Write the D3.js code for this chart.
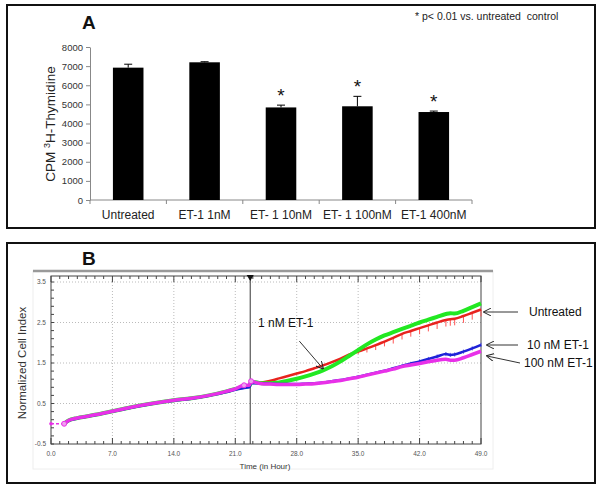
<html><head>
<meta charset="utf-8">
<script src="https://d3js.org/d3.v7.min.js"></script>
<style>
  body { margin: 0; background: #fff; }
  text { font-family: "Liberation Sans", Arial, sans-serif; }
</style>
</head>
<body>
<div id="chart"></div>
<script>
    const svgWidth = 601;
    const svgHeight = 489;

    // ---- panel A data ----
    const categories = ["Untreated", "ET-1 1nM", "ET- 1 10nM", "ET- 1 100nM", "ET-1 400nM"];
    const cpmValues = [6920, 7200, 4840, 4900, 4600];
    const cpmErrors = [180, 30, 120, 520, 50];
    const significant = [false, false, true, true, true];
    const yTicksA = [0, 1000, 2000, 3000, 4000, 5000, 6000, 7000, 8000];

    // ---- panel B data ----
    const timeH = [1.5, 2, 3, 4, 5, 7, 9, 11, 13, 14, 16, 18, 20, 21, 22, 22.6, 22.8, 23.5,
                   24, 25, 26, 27, 28, 29, 30, 31, 32, 33, 34, 35, 36, 37, 38, 39, 40, 41,
                   42, 43, 44, 45, 45.5, 46, 47, 48, 49];
    const pre = [0.0, 0.08, 0.14, 0.18, 0.22, 0.31, 0.40, 0.48, 0.55, 0.58, 0.63, 0.70, 0.80, 0.86, 0.91, 0.93, 1.03, 1.02];
    const untreatedCI = pre.concat([1.02, 1.06, 1.12, 1.18, 1.24, 1.30, 1.37, 1.44, 1.52, 1.61, 1.71, 1.78, 1.86, 1.94, 2.03, 2.12, 2.22, 2.29,
                   2.36, 2.43, 2.50, 2.56, 2.58, 2.59, 2.66, 2.74, 2.82]);
    const untreatedErr = [0,0,0,0,0,0,0,0,0,0,0,0,0,0,0,0,0,0,
                   0,0,0,0,0,0,0,0,0,0,0,0.06,0.10,0.12,0.12,0.14,0.14,0.14,
                   0.15,0.15,0.16,0.16,0.16,0.16,0.17,0.17,0.17];
    const nM1CI = pre.concat([1.00, 1.00, 1.02, 1.06, 1.11, 1.17, 1.24, 1.32, 1.42, 1.54, 1.68, 1.82, 1.96, 2.08, 2.18, 2.26, 2.34, 2.42,
                   2.50, 2.57, 2.64, 2.71, 2.73, 2.72, 2.79, 2.88, 2.97]);
    const nM10CI = [0.0, 0.07, 0.13, 0.17, 0.21, 0.30, 0.39, 0.47, 0.54, 0.57, 0.62, 0.69, 0.78, 0.84, 0.88, 0.90, 1.00, 1.00,
                   1.00, 0.99, 0.98, 0.98, 0.98, 0.99, 1.00, 1.02, 1.05, 1.08, 1.12, 1.16, 1.21, 1.26, 1.31, 1.37, 1.43, 1.49,
                   1.54, 1.60, 1.66, 1.72, 1.70, 1.71, 1.78, 1.86, 1.95];
    const nM10Err = [0,0,0,0,0,0,0,0,0,0,0,0,0,0,0,0,0,0,
                   0,0,0,0,0,0,0,0,0,0,0,0,0,0,0,0,0.04,0.04,
                   0.05,0.05,0.05,0.05,0.05,0.05,0.05,0.05,0.05];
    const nM100CI = [0.0, 0.08, 0.14, 0.18, 0.22, 0.31, 0.40, 0.48, 0.55, 0.58, 0.63, 0.70, 0.80, 0.86, 0.95, 0.95, 1.05, 1.01,
                   0.99, 0.98, 0.97, 0.97, 0.97, 0.98, 0.99, 1.01, 1.04, 1.07, 1.11, 1.15, 1.20, 1.25, 1.30, 1.35, 1.41, 1.45,
                   1.49, 1.53, 1.57, 1.59, 1.57, 1.57, 1.63, 1.71, 1.79];
    const xTicksB = [0, 7, 14, 21, 28, 35, 42, 49];
    const yTicksB = [-0.5, 0.5, 1.5, 2.5, 3.5];
    const treatTime = 22.7;

    const svg = d3.select("#chart").append("svg")
        .attr("width", svgWidth).attr("height", svgHeight);

    // ================= PANEL A =================
    svg.append("rect").attr("x", 7).attr("y", 5).attr("width", 588).attr("height", 223)
        .attr("fill", "none").attr("stroke", "#111").attr("stroke-width", 2);

    const xA = d3.scaleBand().domain(categories).range([90, 472])
        .paddingInner(0.6).paddingOuter(0.3);
    const yA = d3.scaleLinear().domain([0, 8000]).range([200, 47]);

    const gA = svg.append("g");

    let leftA = gA.append("g").attr("transform", "translate(90,0)")
        .call(d3.axisLeft(yA).tickValues(yTicksA).tickFormat(d3.format("d")).tickSize(4).tickSizeOuter(0));
    leftA.selectAll("text").attr("font-size", 9.5).attr("fill", "#333")
        .style("font-family", "Liberation Sans, Arial");
    leftA.selectAll("line,path").attr("stroke", "#888");

    // x axis line with ticks at category boundaries
    const bounds = d3.range(categories.length + 1).map(i => 90 + i * xA.step());
    gA.append("line").attr("x1", 90).attr("x2", 472).attr("y1", yA(0)).attr("y2", yA(0))
        .attr("stroke", "#888");
    gA.selectAll(".bt").data(bounds).join("line")
        .attr("x1", d => d).attr("x2", d => d).attr("y1", yA(0)).attr("y2", yA(0) + 4)
        .attr("stroke", "#888");
    gA.selectAll(".cl").data(categories).join("text")
        .attr("x", d => xA(d) + xA.bandwidth() / 2).attr("y", 219)
        .attr("text-anchor", "middle").attr("font-size", 12).attr("fill", "#222")
        .text(d => d);

    gA.selectAll(".bar").data(categories).join("rect")
        .attr("x", d => xA(d)).attr("width", xA.bandwidth())
        .attr("y", (d, i) => yA(cpmValues[i]))
        .attr("height", (d, i) => yA(0) - yA(cpmValues[i]))
        .attr("fill", "#000");

    // error bars (upper)
    gA.selectAll(".err").data(categories).join("line")
        .attr("x1", d => xA(d) + xA.bandwidth() / 2).attr("x2", d => xA(d) + xA.bandwidth() / 2)
        .attr("y1", (d, i) => yA(cpmValues[i])).attr("y2", (d, i) => yA(cpmValues[i] + cpmErrors[i]))
        .attr("stroke", "#000").attr("stroke-width", 1);
    gA.selectAll(".cap").data(categories).join("line")
        .attr("x1", d => xA(d) + xA.bandwidth() / 2 - 4).attr("x2", d => xA(d) + xA.bandwidth() / 2 + 4)
        .attr("y1", (d, i) => yA(cpmValues[i] + cpmErrors[i])).attr("y2", (d, i) => yA(cpmValues[i] + cpmErrors[i]))
        .attr("stroke", "#000").attr("stroke-width", 1);

    gA.selectAll(".star").data(categories.filter((d, i) => significant[i])).join("text")
        .attr("x", d => xA(d) + xA.bandwidth() / 2)
        .attr("y", d => { let i = categories.indexOf(d); return yA(cpmValues[i] + cpmErrors[i]) - 3; })
        .attr("text-anchor", "middle").attr("font-size", 19).attr("fill", "#111")
        .text("*");

    svg.append("text").attr("transform", "translate(55,124) rotate(-90)")
        .attr("text-anchor", "middle").attr("font-size", 13.5).attr("fill", "#222")
        .html('CPM <tspan font-size="9" dy="-5">3</tspan><tspan dy="5">H-Thymidine</tspan>');

    svg.append("text").attr("x", 82).attr("y", 29).attr("font-size", 19)
        .attr("font-weight", "bold").attr("fill", "#111").text("A");
    svg.append("text").attr("x", 415).attr("y", 20).attr("font-size", 10.5)
        .attr("fill", "#222").attr("xml:space", "preserve")
        .text("* p< 0.01 vs. untreated  control");

    // ================= PANEL B =================
    svg.append("rect").attr("x", 7).attr("y", 243).attr("width", 588).attr("height", 240)
        .attr("fill", "none").attr("stroke", "#111").attr("stroke-width", 2);

    svg.append("text").attr("x", 82).attr("y", 265).attr("font-size", 19)
        .attr("font-weight", "bold").attr("fill", "#111").text("B");

    // light frame of plot window
    svg.append("rect").attr("x", 33).attr("y", 271).attr("width", 460).attr("height", 198)
        .attr("fill", "none").attr("stroke", "#eee").attr("stroke-width", 1);
    svg.append("line").attr("x1", 33).attr("x2", 493).attr("y1", 271).attr("y2", 271)
        .attr("stroke", "#999").attr("stroke-width", 2.5);

    const xB = d3.scaleLinear().domain([0, 49]).range([51, 481]);
    const yB = d3.scaleLinear().domain([-0.5, 3.5]).range([444, 282]);
    const yTop = 276;

    const gB = svg.append("g");

    // dotted grid
    gB.selectAll(".gx").data(xTicksB.slice(1, -1)).join("line")
        .attr("x1", d => xB(d)).attr("x2", d => xB(d)).attr("y1", yTop).attr("y2", yB(-0.5))
        .attr("stroke", "#bbb").attr("stroke-dasharray", "1,2");
    gB.selectAll(".gy").data(yTicksB.slice(1)).join("line")
        .attr("x1", xB(0)).attr("x2", xB(49)).attr("y1", d => yB(d)).attr("y2", d => yB(d))
        .attr("stroke", "#bbb").attr("stroke-dasharray", "1,2");

    // plot border
    gB.append("rect").attr("x", xB(0)).attr("y", yTop).attr("width", xB(49) - xB(0))
        .attr("height", yB(-0.5) - yTop).attr("fill", "none").attr("stroke", "#444").attr("stroke-width", 1);

    // minor ticks (every hour) top and bottom, inside
    const hours = d3.range(0, 50, 1);
    gB.selectAll(".tb").data(hours).join("line")
        .attr("x1", d => xB(d)).attr("x2", d => xB(d))
        .attr("y1", yB(-0.5)).attr("y2", d => yB(-0.5) - (d % 7 === 0 ? 6 : 3))
        .attr("stroke", "#444");
    gB.selectAll(".tt").data(hours).join("line")
        .attr("x1", d => xB(d)).attr("x2", d => xB(d))
        .attr("y1", yTop).attr("y2", d => yTop + (d % 7 === 0 ? 6 : 3))
        .attr("stroke", "#444");
    const yMinor = d3.range(-0.5, 3.61, 0.2);
    gB.selectAll(".tl").data(yMinor).join("line")
        .attr("x1", xB(0)).attr("x2", xB(0) + 3)
        .attr("y1", d => yB(d)).attr("y2", d => yB(d)).attr("stroke", "#444");

    gB.selectAll(".xl").data(xTicksB).join("text")
        .attr("x", d => xB(d)).attr("y", yB(-0.5) + 12)
        .attr("text-anchor", "middle").attr("font-size", 6.5).attr("fill", "#555")
        .text(d => d.toFixed(1));
    gB.selectAll(".yl").data(yTicksB).join("text")
        .attr("x", xB(0) - 5).attr("y", d => yB(d) + 2)
        .attr("text-anchor", "end").attr("font-size", 6.5).attr("fill", "#555")
        .text(d => d.toFixed(1));

    svg.append("text").attr("x", 265).attr("y", 469).attr("text-anchor", "middle")
        .attr("font-size", 8).attr("fill", "#333").text("Time (in Hour)");
    svg.append("text").attr("transform", "translate(26,363) rotate(-90)")
        .attr("text-anchor", "middle").attr("font-size", 11.5).attr("fill", "#333")
        .text("Normalized Cell Index");

    // treatment line and marker
    gB.append("line").attr("x1", xB(treatTime)).attr("x2", xB(treatTime))
        .attr("y1", yTop).attr("y2", yB(-0.5)).attr("stroke", "#333").attr("stroke-width", 1);
    gB.append("path")
        .attr("d", d3.symbol().type(d3.symbolTriangle).size(22))
        .attr("transform", "translate(" + xB(treatTime) + "," + (yTop + 1) + ") rotate(180)")
        .attr("fill", "#111");

    const line = d3.line().x((d, i) => xB(timeH[i])).y(d => yB(d)).curve(d3.curveMonotoneX);

    // error bars of untreated (hanging below)
    const errIdx = d3.range(timeH.length).filter(i => untreatedErr[i] > 0);
    gB.selectAll(".re").data(errIdx).join("line")
        .attr("x1", i => xB(timeH[i])).attr("x2", i => xB(timeH[i]))
        .attr("y1", i => yB(untreatedCI[i]))
        .attr("y2", i => yB(untreatedCI[i] - untreatedErr[i]))
        .attr("stroke", "#f55").attr("stroke-width", 1);

    gB.append("path").datum(untreatedCI).attr("d", line)
        .attr("fill", "none").attr("stroke", "#e8231e").attr("stroke-width", 2.5);
    gB.append("path").datum(nM1CI).attr("d", line)
        .attr("fill", "none").attr("stroke", "#22e822").attr("stroke-width", 4);

    // small error marks of 10 nM
    const blueIdx = d3.range(timeH.length).filter(i => nM10Err[i] > 0);
    gB.selectAll(".be").data(blueIdx).join("line")
        .attr("x1", i => xB(timeH[i])).attr("x2", i => xB(timeH[i]))
        .attr("y1", i => yB(nM10CI[i] + nM10Err[i]))
        .attr("y2", i => yB(nM10CI[i] - nM10Err[i]))
        .attr("stroke", "#5558e8").attr("stroke-width", 1);

    gB.append("path").datum(nM10CI).attr("d", line)
        .attr("fill", "none").attr("stroke", "#1f22d8").attr("stroke-width", 2.5);
    gB.append("path").datum(nM100CI).attr("d", line)
        .attr("fill", "none").attr("stroke", "#e830e8").attr("stroke-width", 3.5);

    // dashed start segment and markers
    gB.append("line").attr("x1", xB(0)).attr("x2", xB(timeH[0]))
        .attr("y1", yB(nM100CI[0])).attr("y2", yB(nM100CI[0]))
        .attr("stroke", "#e830e8").attr("stroke-width", 1.5).attr("stroke-dasharray", "3,2");
    const markIdx = [0, 14, 16];
    gB.selectAll(".mk").data(markIdx).join("circle")
        .attr("cx", i => xB(timeH[i])).attr("cy", i => yB(nM100CI[i])).attr("r", 2.5)
        .attr("fill", "#f0a0f0").attr("stroke", "#e830e8");
    gB.append("circle").attr("cx", xB(0)).attr("cy", yB(0)).attr("r", 1.8).attr("fill", "#e830e8");

    // annotations
    const ann = svg.append("g").attr("fill", "#111");
    svg.append("defs").append("marker").attr("id", "arr").attr("viewBox", "0 0 10 10")
        .attr("refX", 9).attr("refY", 5).attr("markerWidth", 8).attr("markerHeight", 8)
        .attr("orient", "auto")
        .append("path").attr("d", "M0,0 L10,5 L0,10").attr("fill", "none").attr("stroke", "#222").attr("stroke-width", 1.2);

    ann.append("text").attr("x", xB(23.6)).attr("y", yB(2.49) + 4).attr("font-size", 12).text("1 nM ET-1");
    ann.append("line").attr("x1", xB(28.3)).attr("y1", yB(2.04)).attr("x2", xB(31)).attr("y2", yB(1.36))
        .attr("stroke", "#333").attr("marker-end", "url(#arr)");

    const rightLabels = [
        {t: "Untreated", x: 529, y: 316, ax1: 518, ay1: 312, ax2: 484, ay2: 312},
        {t: "10 nM ET-1", x: 527, y: 349, ax1: 518, ay1: 345, ax2: 487, ay2: 345},
        {t: "100 nM ET-1", x: 524, y: 367, ax1: 520, ay1: 363, ax2: 487, ay2: 356}
    ];
    rightLabels.forEach(r => {
        ann.append("text").attr("x", r.x).attr("y", r.y).attr("font-size", 12).text(r.t);
        ann.append("line").attr("x1", r.ax1).attr("y1", r.ay1).attr("x2", r.ax2).attr("y2", r.ay2)
            .attr("stroke", "#333").attr("marker-end", "url(#arr)");
    });
</script>
</body></html>
